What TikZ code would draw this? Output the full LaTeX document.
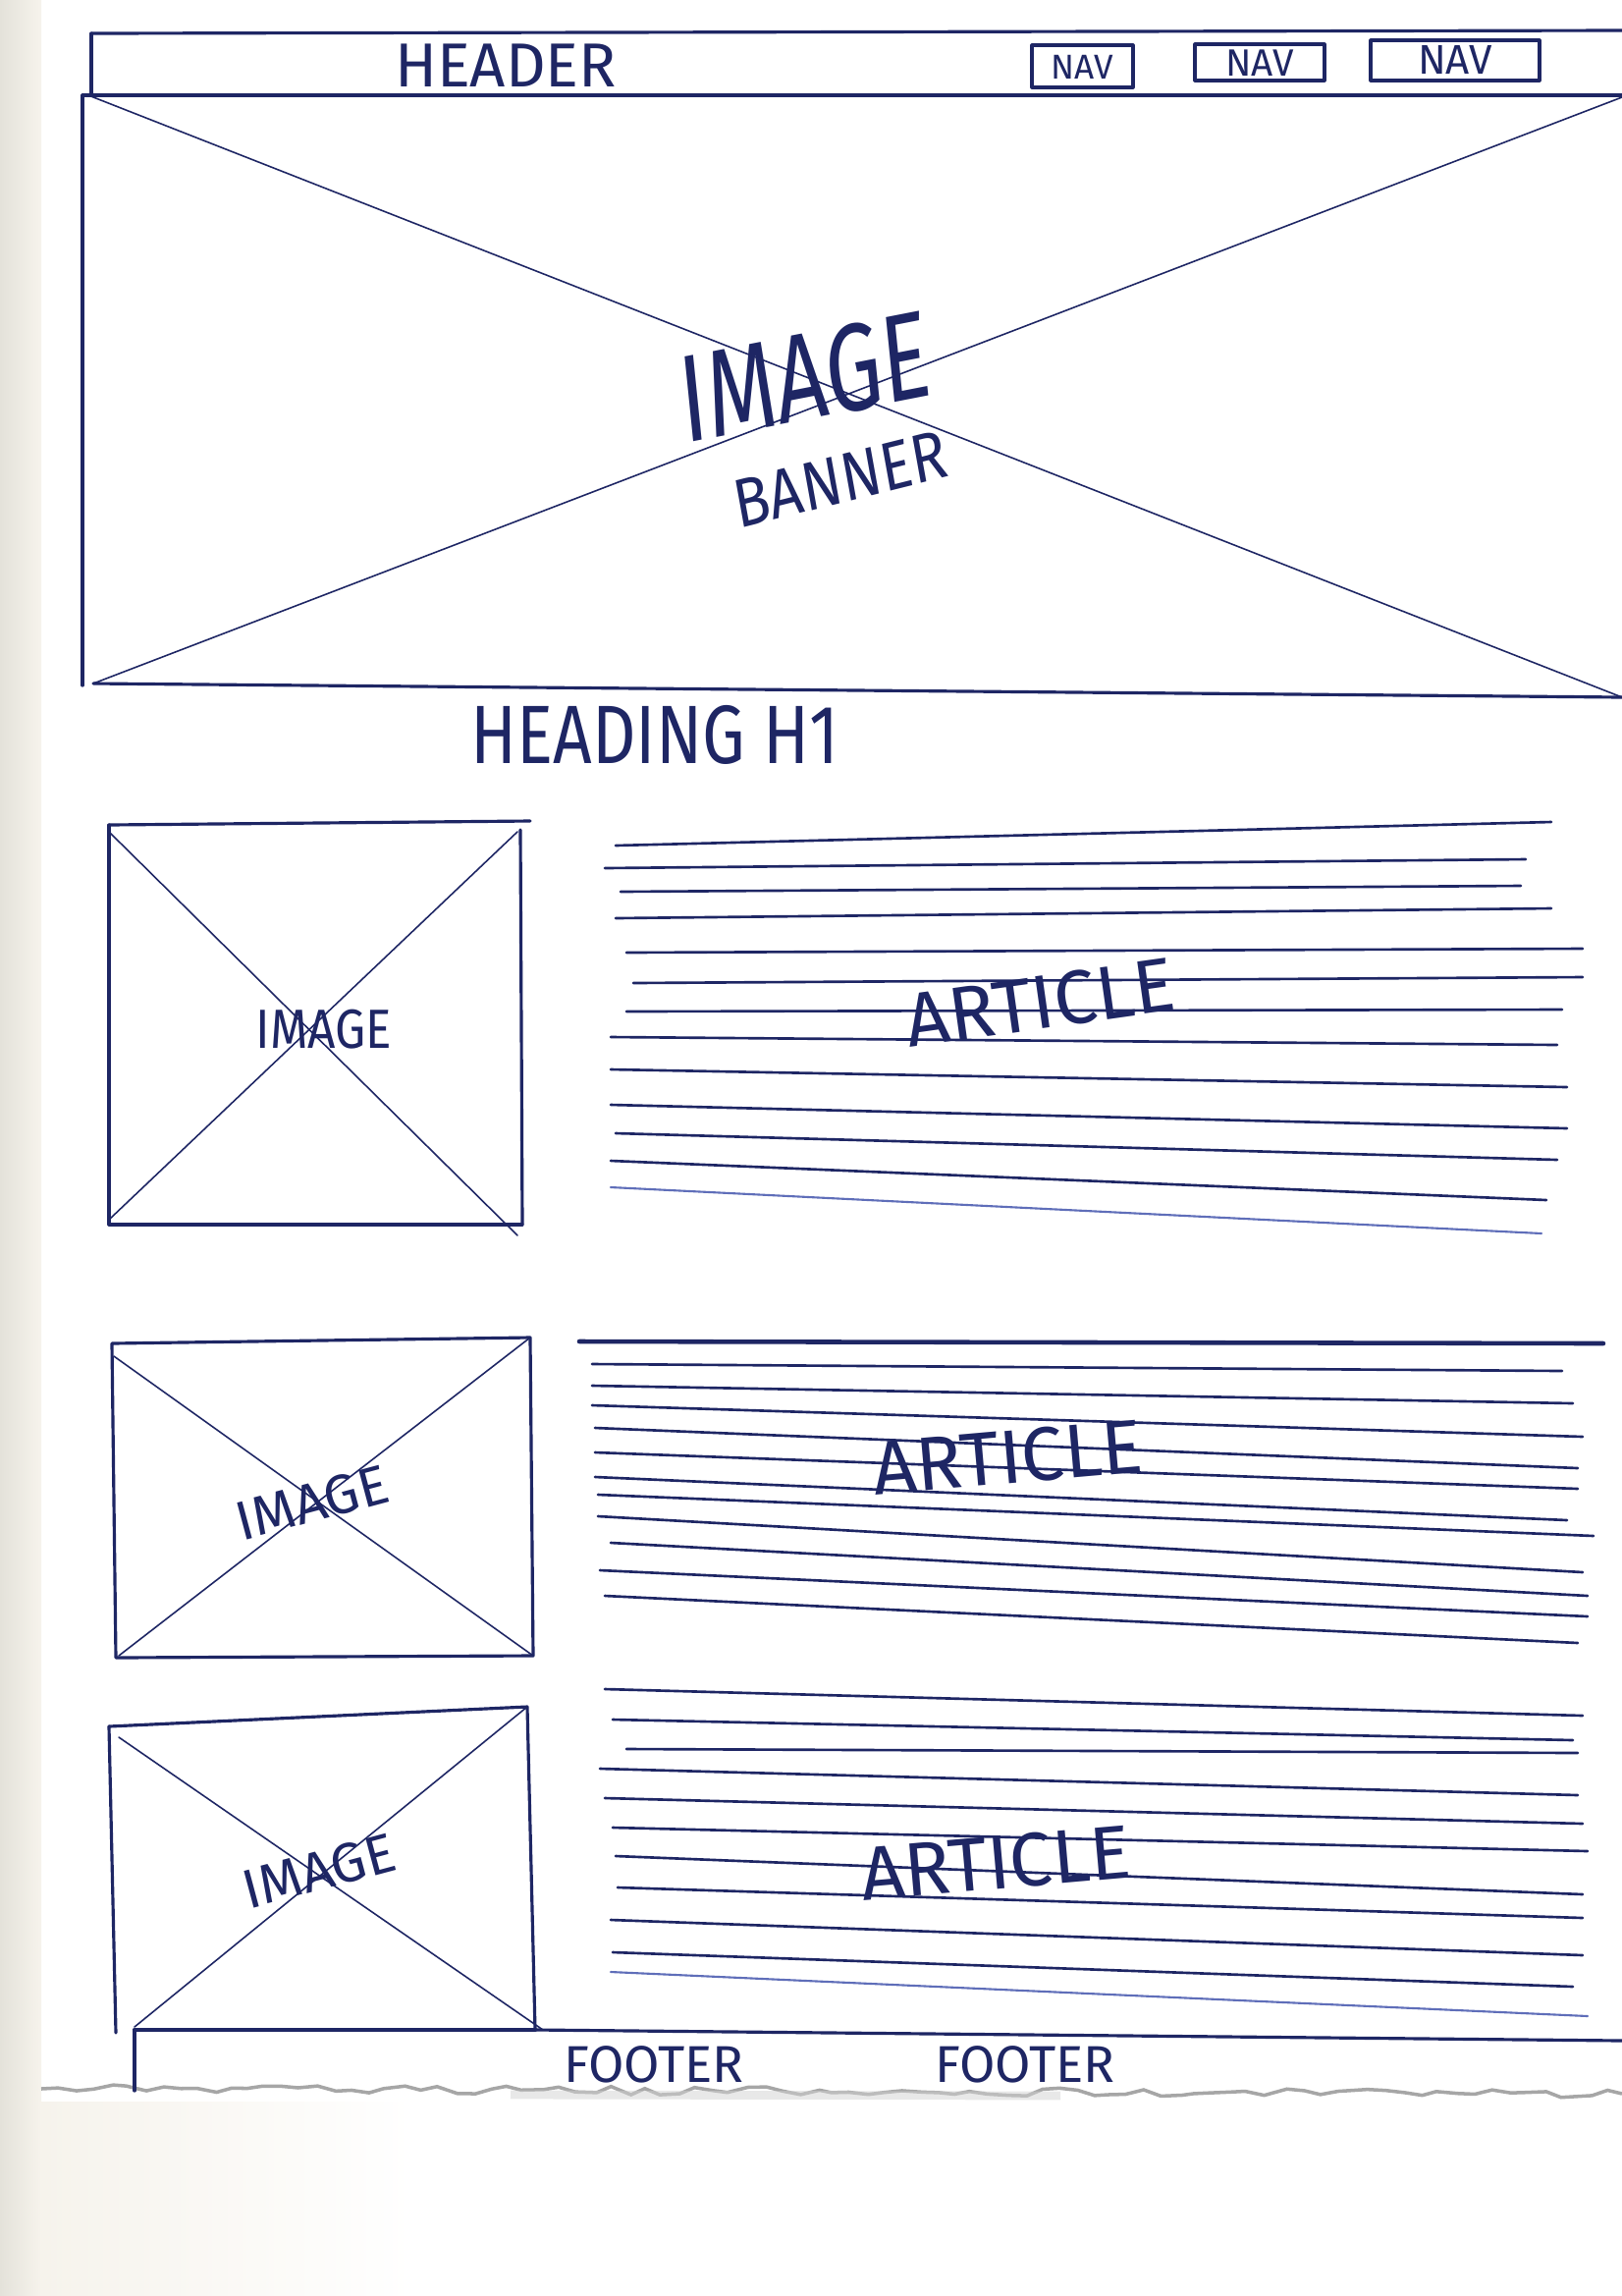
\documentclass[tikz,border=0pt]{standalone}
\usepackage{fontspec}
\setmainfont{Fira Sans}
\usetikzlibrary{decorations.pathmorphing}
\definecolor{inkc}{RGB}{30,38,100}
\definecolor{inkl}{RGB}{95,110,185}
\definecolor{paperedge}{RGB}{228,226,218}
\definecolor{beige}{RGB}{246,243,236}
\begin{document}
\begin{tikzpicture}[x=0.1mm,y=-0.1mm,
  ink/.style={draw=inkc,line width=0.9pt,line cap=round,line join=round},
  cross/.style={draw=inkc,line width=0.45pt,line cap=round},
  rule/.style={draw=inkc,line width=0.75pt,line cap=round},
  faint rule/.style={draw=inkl,line width=0.6pt,line cap=round},
  hand/.style={text=inkc,inner sep=0pt}]
\useasboundingbox (0,0) rectangle (1652,2338);
% sheet and scanner background
\fill[white] (0,0) rectangle (1652,2338);
\fill[left color=paperedge,right color=beige] (0,0) rectangle (42,2338);
\fill[left color=beige,right color=white] (42,2140) rectangle (420,2338);
\pgfmathsetseed{7}
\draw[gray!70,line width=1pt,decorate,decoration={random steps,segment length=5,amplitude=1.2}]
  (42,2127) -- (1652,2132);
\draw[gray!35,line width=2.5pt,opacity=0.5] (520,2133) -- (1080,2134);

% header bar
\coordinate (htl) at (93,34);
\coordinate (htr) at (1652,31);
\coordinate (hbl) at (84,97);
\coordinate (hbr) at (1652,97);
\draw[ink] (htl) -- (htr);
\draw[ink] (htl) -- (93,97);
\draw[ink] (hbl) -- (hbr);
\node[hand,font=\fontsize{18}{18}\selectfont] (header) at (515,67) {HEADER};
\draw[ink] (1051,46) rectangle (1154,89);
\node[hand,font=\fontsize{10}{10}\selectfont] (nav1) at (1102,68) {NAV};
\draw[ink] (1217,45) rectangle (1349,82);
\node[hand,font=\fontsize{11}{11}\selectfont] (nav2) at (1283,64) {NAV};
\draw[ink] (1396,41) rectangle (1568,82);
\node[hand,font=\fontsize{12}{12}\selectfont] (nav3) at (1482,61) {NAV};

% banner image
\coordinate (bbl) at (95,696);
\coordinate (bbr) at (1652,710);
\draw[ink] (hbl) -- (84,698);
\draw[ink] (bbl) -- (bbr);
\draw[cross] (90,97) -- (bbr);
\draw[cross] (bbl) -- (1652,99);
\node[hand,font=\fontsize{36}{36}\selectfont,xscale=0.72,rotate=8] (bimg) at (820,384) {IMAGE};
\node[hand,font=\fontsize{20}{20}\selectfont,xscale=0.85,rotate=12] (banner) at (856,488) {BANNER};

% page heading
\node[hand,font=\fontsize{24}{24}\selectfont,xscale=0.82] (h1) at (667,748) {HEADING H1};

% first image and article
\coordinate (a1) at (111,840);
\coordinate (b1) at (540,836);
\coordinate (c1) at (532,1247);
\coordinate (d1) at (111,1247);
\draw[ink] (a1) -- (b1);
\draw[ink] (a1) -- (d1) -- (c1);
\draw[ink] (530,845) -- (c1);
\draw[cross] (111,847) -- (527,1258);
\draw[cross] (527,847) -- (111,1242);
\node[hand,font=\fontsize{16}{16}\selectfont,xscale=0.88] (img1) at (330,1048) {IMAGE};
\foreach \xa/\ya/\xb/\yb in {627/861/1580/837,616/884/1554/875,632/908/1549/902,
  627/935/1580/925,638/970/1612/966,645/1001/1612/995,638/1030/1591/1028,
  622/1056/1586/1064,622/1089/1596/1107,622/1125/1596/1149,627/1154/1586/1181,
  622/1182/1575/1222}
  \draw[rule] (\xa,\ya) -- (\xb,\yb);
\draw[faint rule] (622,1209) -- (1570,1256);
\node[hand,font=\fontsize{22}{22}\selectfont,rotate=8] (art1) at (1059,1021) {ARTICLE};

% second image and article
\coordinate (a2) at (114,1368);
\coordinate (b2) at (540,1362);
\coordinate (c2) at (543,1686);
\coordinate (d2) at (118,1688);
\draw[ink] (a2) -- (b2) -- (c2) -- (d2) -- cycle;
\draw[cross] (116,1381) -- (c2);
\draw[cross] (b2) -- (121,1686);
\node[hand,font=\fontsize{16}{16}\selectfont,rotate=15] (img2) at (318,1530) {IMAGE};
\draw[ink,line width=1.3pt] (590,1366) -- (1633,1368);
\foreach \xa/\ya/\xb/\yb in {603/1389/1591/1396,603/1411/1602/1429,603/1431/1612/1463,
  606/1454/1607/1495,606/1479/1607/1516,606/1504/1596/1548,609/1522/1623/1564,
  609/1544/1612/1601,622/1571/1617/1625,611/1599/1617/1646,616/1625/1607/1673}
  \draw[rule] (\xa,\ya) -- (\xb,\yb);
\node[hand,font=\fontsize{22}{22}\selectfont,rotate=5] (art2) at (1026,1484) {ARTICLE};

% third image and article
\coordinate (a3) at (111,1758);
\coordinate (b3) at (537,1738);
\coordinate (c3) at (545,2067);
\coordinate (d3) at (137,2067);
\draw[ink] (a3) -- (b3) -- (c3);
\draw[ink] (a3) -- (118,2070);
\draw[cross] (121,1769) -- (553,2067);
\draw[cross] (b3) -- (137,2064);
\node[hand,font=\fontsize{16}{16}\selectfont,rotate=15] (img3) at (325,1905) {IMAGE};
\foreach \xa/\ya/\xb/\yb in {616/1720/1612/1747,624/1751/1602/1772,638/1781/1607/1785,
  611/1801/1607/1828,616/1831/1612/1857,624/1861/1617/1885,627/1890/1612/1929,
  629/1922/1612/1953,622/1955/1612/1991,624/1988/1602/2023}
  \draw[rule] (\xa,\ya) -- (\xb,\yb);
\draw[faint rule] (622,2008) -- (1617,2053);
\node[hand,font=\fontsize{22}{22}\selectfont,rotate=5] (art3) at (1014,1897) {ARTICLE};

% footer
\coordinate (ftr) at (1652,2078);
\draw[ink,line width=1.2pt] (d3) -- (c3);
\draw[ink] (c3) -- (ftr);
\draw[ink] (d3) -- (137,2129);
\node[hand,font=\fontsize{15}{15}\selectfont] (foot1) at (666,2102) {FOOTER};
\node[hand,font=\fontsize{15}{15}\selectfont] (foot2) at (1044,2102) {FOOTER};
\end{tikzpicture}
\end{document}
